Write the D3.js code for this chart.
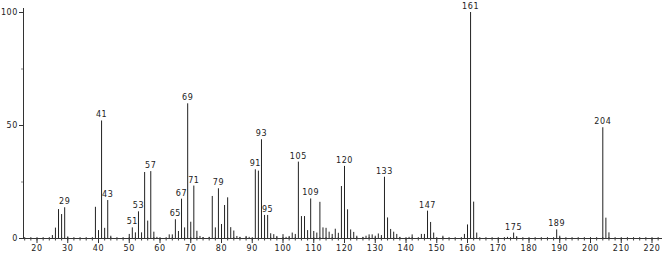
<!DOCTYPE html>
<html>
<head>
<meta charset="utf-8">
<script src="https://cdn.jsdelivr.net/npm/d3@7"></script>
<style>
  body { margin: 0; background: #fff; }
  svg { display: block; }
  text { font-family: "DejaVu Sans", sans-serif; font-size: 8px; fill: #222; letter-spacing: 0.6px; }
</style>
</head>
<body>
<svg id="chart" width="666" height="254"></svg>
<script>
// mass spectrum: m/z and relative abundance
var mz = [25, 26, 27, 28, 29, 30, 39, 40, 41, 42, 43, 44,
  50, 51, 52, 53, 54, 55, 56, 57, 58, 59,
  63, 64, 65, 66, 67, 68, 69, 70, 71, 72, 73, 74,
  76, 77, 78, 79, 80, 81, 82, 83, 84, 85, 86, 88, 89,
  91, 92, 93, 94, 95, 96, 97, 98, 100, 101, 102, 103, 104,
  105, 106, 107, 108, 109, 110, 111, 112, 113, 114, 115, 116, 117, 118,
  119, 120, 121, 122, 123, 124, 126, 127, 128, 129, 130, 131, 132,
  133, 134, 135, 136, 137, 138, 141, 142, 145, 146,
  147, 148, 149, 152, 159, 160, 161, 162, 163,
  173, 175, 176, 189, 190, 204, 205, 206];
var abund = [1.3, 4.6, 12.8, 10.6, 13.6, 0.7, 13.8, 3.5, 52, 4.5, 16.8, 1,
  1.8, 4.7, 2.5, 11.8, 2.5, 29.2, 7.7, 29.6, 2.8, 0.5,
  1.6, 1.6, 8.3, 3.1, 17.4, 4.7, 59.6, 7.2, 23.2, 3.2, 0.9, 0.4,
  0.5, 18.6, 4.7, 22, 6.2, 14.6, 18, 4.8, 3.3, 0.9, 0.5, 0.9, 0.5,
  30.4, 29.8, 43.7, 10.2, 10.2, 2.1, 1.7, 0.9, 1.7, 0.5, 0.9, 2.4, 1.8,
  33.8, 9.7, 9.7, 3.5, 17.5, 3.1, 2.4, 16, 4.7, 4.5, 2.8, 1.8, 4.1, 2.3,
  23, 31.9, 12.7, 3.8, 2.7, 1, 0.5, 1, 1.6, 1.6, 1, 2, 1.3,
  27.1, 9.1, 4, 2.8, 1.8, 0.5, 0.5, 1.6, 1.8, 1.8,
  12.1, 7.1, 2.4, 1, 1.8, 6, 100, 16.1, 2.4,
  0.5, 2.4, 0.8, 3.8, 1, 49, 9, 2.5];
var labeled = [29, 41, 43, 51, 53, 57, 65, 67, 69, 71, 79, 91, 93, 95,
  105, 109, 120, 133, 147, 161, 175, 189, 204];
var xTickValues = [20, 30, 40, 50, 60, 70, 80, 90, 100, 110, 120, 130, 140,
  150, 160, 170, 180, 190, 200, 210, 220];
var yTickValues = [0, 50, 100];

var svg = d3.select("#chart");
var x = d3.scaleLinear().domain([20, 220]).range([37, 652]);
var y = d3.scaleLinear().domain([0, 100]).range([238, 12]);
var x0 = 23, x1 = 662;

// x axis
var xa = svg.append("g");
xa.append("line").attr("x1", x0).attr("x2", x1)
  .attr("y1", y(0) + 0.5).attr("y2", y(0) + 0.5)
  .attr("stroke", "#333");
xa.selectAll("line.minor").data(d3.range(16, 224, 2)).enter().append("line")
  .attr("class", "minor")
  .attr("x1", function(d) { return x(d); }).attr("x2", function(d) { return x(d); })
  .attr("y1", y(0) - 1).attr("y2", y(0) + 2.5)
  .attr("stroke", "#444");
xa.selectAll("line.major").data(xTickValues).enter().append("line")
  .attr("class", "major")
  .attr("x1", function(d) { return x(d); }).attr("x2", function(d) { return x(d); })
  .attr("y1", y(0)).attr("y2", y(0) + 5)
  .attr("stroke", "#333");
xa.selectAll("text").data(xTickValues).enter().append("text")
  .attr("x", function(d) { return x(d); })
  .attr("y", 251)
  .attr("text-anchor", "middle")
  .text(function(d) { return d; });

// y axis
var ya = svg.append("g");
ya.append("line").attr("x1", x0 + 0.5).attr("x2", x0 + 0.5)
  .attr("y1", 8).attr("y2", y(0) + 1)
  .attr("stroke", "#333");
ya.selectAll("line.major").data(yTickValues).enter().append("line")
  .attr("x1", x0 - 4).attr("x2", x0)
  .attr("y1", function(d) { return y(d) + 0.5; }).attr("y2", function(d) { return y(d) + 0.5; })
  .attr("stroke", "#333");
ya.selectAll("line.minor").data([25, 75]).enter().append("line")
  .attr("x1", x0 - 2).attr("x2", x0)
  .attr("y1", function(d) { return y(d) + 0.5; }).attr("y2", function(d) { return y(d) + 0.5; })
  .attr("stroke", "#888");
ya.selectAll("text").data(yTickValues).enter().append("text")
  .attr("x", x0 - 5)
  .attr("y", function(d) { return y(d) + 3; })
  .attr("text-anchor", "end")
  .text(function(d) { return d; });

// peaks
var peaks = mz.map(function(m, i) { return {mz: m, ab: abund[i]}; });
svg.append("g").selectAll("line").data(peaks).enter().append("line")
  .attr("x1", function(d) { return x(d.mz); }).attr("x2", function(d) { return x(d.mz); })
  .attr("y1", y(0)).attr("y2", function(d) { return y(d.ab); })
  .attr("stroke", "#222").attr("stroke-width", 1);

svg.append("g").selectAll("text")
  .data(peaks.filter(function(d) { return labeled.indexOf(d.mz) >= 0; }))
  .enter().append("text")
  .attr("x", function(d) { return x(d.mz); })
  .attr("y", function(d) { return y(d.ab) - 3; })
  .attr("text-anchor", "middle")
  .text(function(d) { return d.mz; });
</script>
</body>
</html>
